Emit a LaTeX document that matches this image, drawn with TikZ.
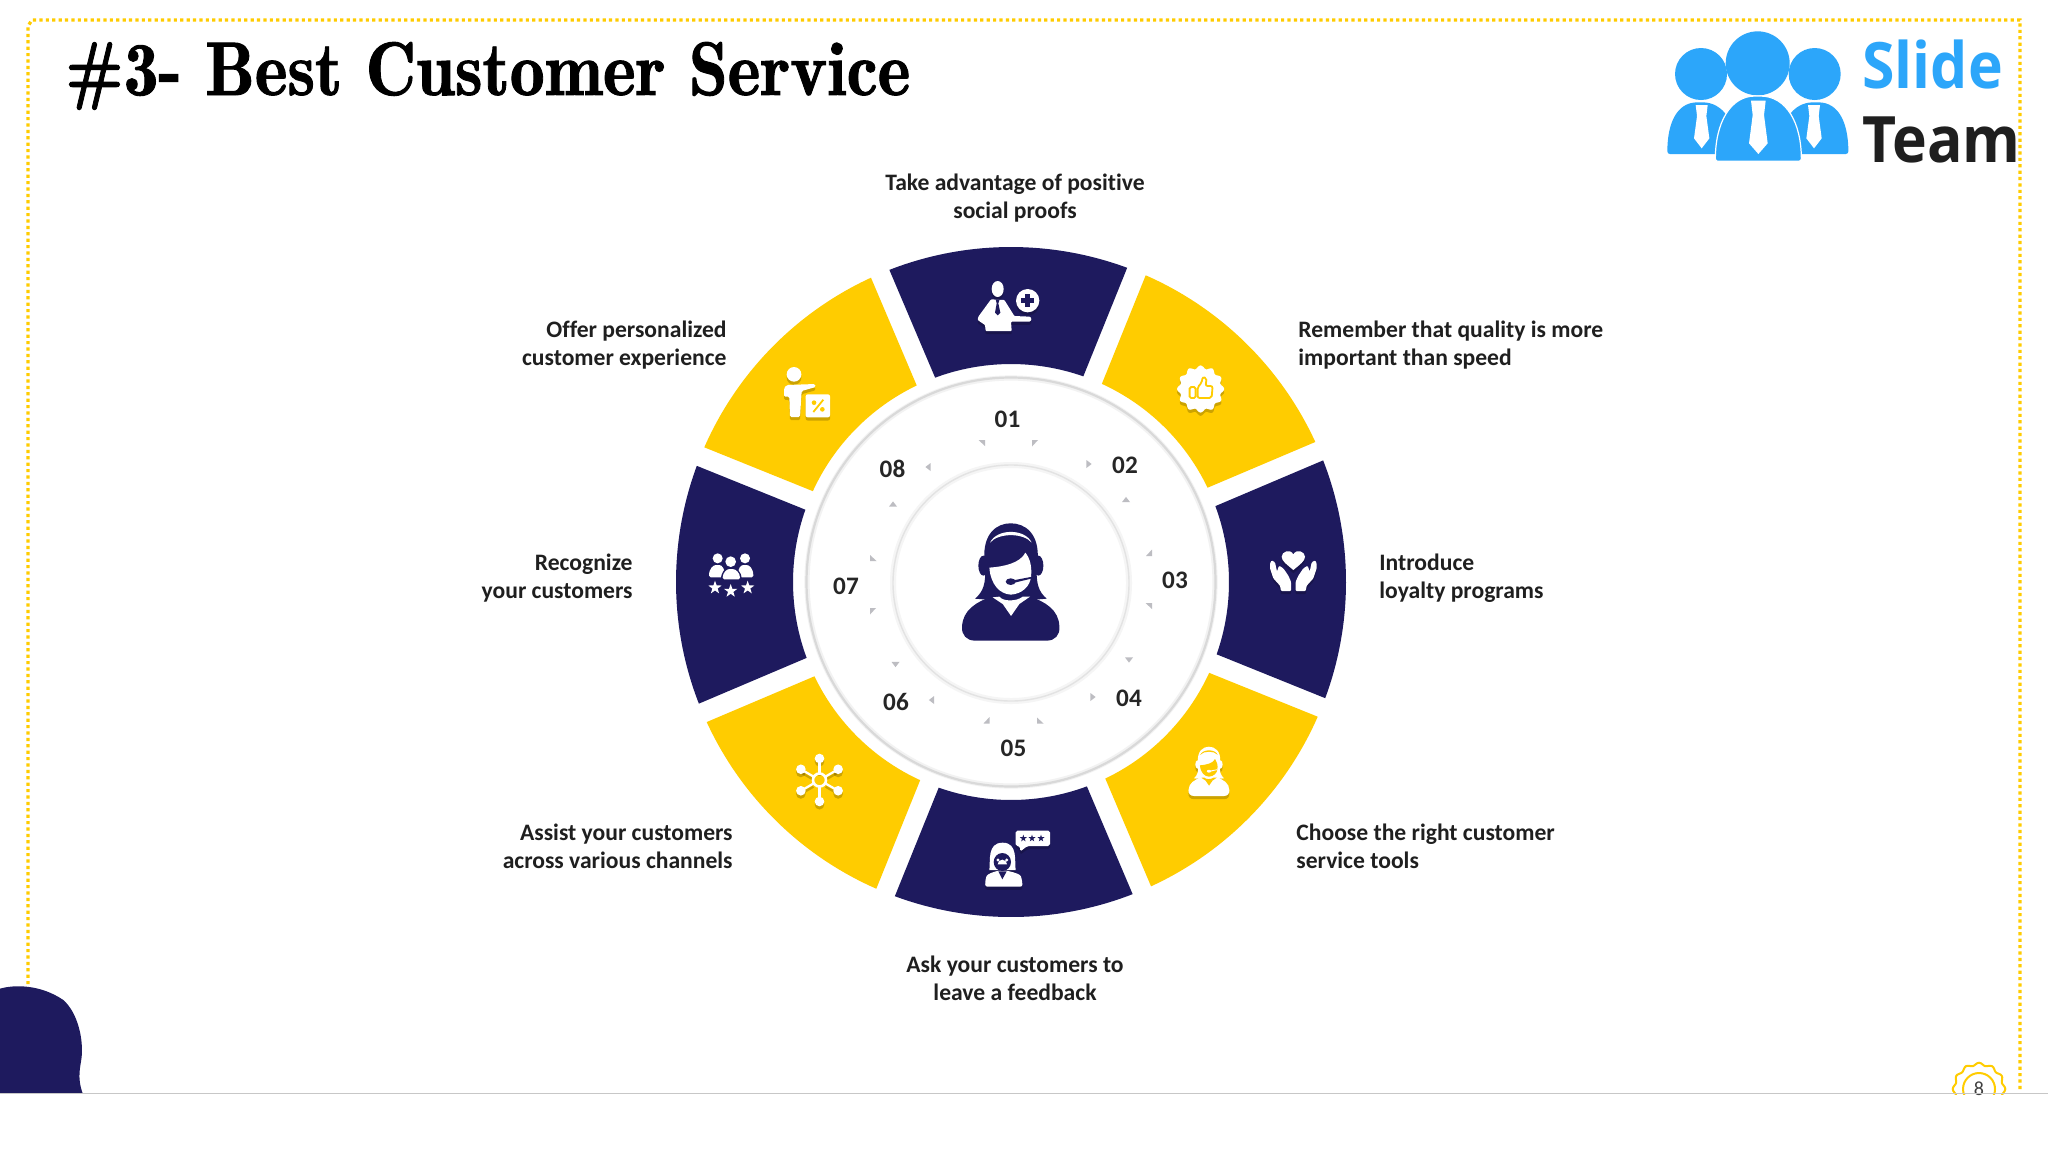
\documentclass[tikz,border=0pt]{standalone}
\usepackage{fontspec}
\usepackage{graphicx}
\newfontfamily\bodyfam[BoldFont={Carlito Bold},Ligatures=NoCommon]{Carlito}
\newfontfamily\logofam{Open Sans Bold}
\newfontfamily\titlefam[FakeBold=1.2]{lmromandemi10-regular.otf}
\definecolor{navy}{HTML}{1E1A5E}
\definecolor{gold}{HTML}{FFCC00}
\definecolor{sky}{HTML}{2CA6FA}
\definecolor{tricol}{HTML}{BDBDC2}
\newcommand\bodyfont{\bodyfam\bfseries\fontsize{11.8pt}{14pt}\selectfont}
\tikzset{
  zm/.style={x=0.166667pt,y=-0.166667pt},
  lbl/.style={inner sep=0pt,font=\bodyfont,text=black!88},
  lblleft/.style={lbl,anchor=west,align=left},
  lblright/.style={lbl,anchor=east,align=right},
  lblmid/.style={lbl,anchor=center,align=center},
  numlbl/.style={inner sep=0pt,anchor=center,text=black!85,font=\bodyfam\bfseries\fontsize{12.6pt}{14pt}\selectfont},
  framedots/.style={draw=gold,line width=1.6pt,dash pattern=on 1.6pt off 1.6pt},
}
% ---------- helpers
\newcommand\sect[2]{\fill[#2] ({#1-20.79}:335) arc[start angle=#1-20.79,end angle=#1+20.79,radius=335] -- ({#1+19.87}:218) arc[start angle=#1+19.87,end angle=#1-19.87,radius=218] -- cycle;}
\newcommand\triA[3]{\fill[tricol,shift={(#1,#2)},rotate=#3] (-2.6,-4) -- (-2.6,4) -- (2.6,0) -- cycle;}
\newcommand\triC[3]{\fill[tricol,shift={(#1,#2)},rotate=#3] (-3.5,-3) -- (3,-3) -- (3,3) -- cycle;}
\newcommand\starat[4]{\fill[#4] plot[samples at={0,1,...,9},variable=\t] ({#1+(#3*(1-0.6*mod(\t,2)))*sin(36*\t)},{#2-(#3*(1-0.6*mod(\t,2)))*cos(36*\t)}) -- cycle;}
\newcommand\shadsil[1]{\begin{scope}[yshift=-1.6pt,opacity=.2]#1{black}\end{scope}#1{white}}
% ---------- woman with headset, in the coordinates of a 3x crop
\newcommand\wsil[1]{%
  \fill[#1] (373,480) .. controls (368,400) and (410,370) .. (452,370) .. controls (495,370) and (538,400) .. (533,480) -- cycle;
  \fill[#1] (370,497) ellipse[x radius=15,y radius=30];
  \fill[#1] (535,497) ellipse[x radius=15,y radius=30];
  \fill[#1] (375,470) -- (375,500) .. controls (378,550) and (370,575) .. (345,596) -- (390,600) -- (515,600) -- (560,596) .. controls (535,575) and (528,550) .. (530,500) -- (530,470) -- cycle;
  \fill[#1] (306,680) .. controls (308,630) and (350,605) .. (395,590) -- (510,590) .. controls (555,605) and (597,630) .. (598,680) .. controls (600,705) and (585,722) .. (560,722) -- (345,722) .. controls (320,722) and (304,705) .. (306,680) -- cycle;
}
\newcommand\wholes[2]{%
  \fill[#1] (388,503) .. controls (430,500) and (480,490) .. (496,458) .. controls (510,475) and (516,500) .. (513,530) .. controls (510,560) and (485,582) .. (452,584) .. controls (420,582) and (392,555) .. (388,503) -- cycle;
  \fill[#1] (398,592) -- (418,590) .. controls (428,605) and (470,605) .. (488,590) -- (510,590) -- (478,612) -- (453,648) -- (428,612) -- cycle;
  \fill[#1] (390,428) .. controls (410,385) and (495,385) .. (515,428) .. controls (490,398) and (415,398) .. (390,428) -- cycle;
  \fill[#2] (452,545) ellipse[x radius=15,y radius=10];
  \fill[#2] (460,541) -- (512,531) -- (513,536) -- (460,549) -- cycle;
}
% ---------- icon silhouettes
\newcommand\silA[1]{%
  \fill[#1] (98,57) ellipse[x radius=18,y radius=24];
  \fill[#1,rounded corners=.4pt] (78,88) -- (40,140) -- (38,150) -- (60,165) -- (62,183) -- (140,183) -- (138,155) -- (195,155) -- (200,147) -- (195,140) -- (148,138) -- (118,90) -- cycle;
  \fill[#1] (188,92) circle[radius=35];
}
\newcommand\silB[1]{%
  \fill[#1] (115,105) .. controls (95,88) and (80,78) .. (80,65) .. controls (80,50) and (105,40) .. (115,58) .. controls (125,40) and (150,50) .. (150,65) .. controls (150,78) and (135,88) .. (115,105) -- cycle;
  \fill[#1,rounded corners=.5pt] (45,85) -- (50,76) -- (60,82) -- (66,110) -- (72,92) -- (85,100) -- (100,122) -- (108,140) -- (108,168) -- (78,168) -- (75,152) -- (55,130) -- (45,100) -- cycle;
  \fill[#1,rounded corners=.5pt] (185,85) -- (180,76) -- (170,82) -- (164,110) -- (158,92) -- (145,100) -- (130,122) -- (122,140) -- (122,168) -- (152,168) -- (155,152) -- (175,130) -- (185,100) -- cycle;
}
\newcommand\silE[1]{%
  \fill[#1,rounded corners=.9pt] (137,32) -- (240,32) -- (240,78) -- (172,78) -- (150,95) -- (150,78) -- (137,78) -- cycle;
  \fill[#1] (58,150) .. controls (62,125) and (50,68) .. (98,68) .. controls (145,68) and (133,125) .. (137,150) -- cycle;
  \fill[#1,rounded corners=1.2pt] (45,200) -- (47,175) .. controls (52,162) and (70,156) .. (85,152) -- (110,152) .. controls (128,156) and (150,162) .. (155,175) -- (158,200) -- cycle;
}
\newcommand\silG[1]{%
  \fill[#1] (68,55) circle[radius=15];
  \fill[#1] (150,55) circle[radius=15];
  \fill[#1,rounded corners=.8pt] (42,112) .. controls (42,85) and (55,75) .. (68,75) .. controls (80,75) and (90,85) .. (90,112) -- cycle;
  \fill[#1,rounded corners=.8pt] (128,112) .. controls (128,85) and (138,75) .. (150,75) .. controls (163,75) and (175,85) .. (175,112) -- cycle;
  \fill[#1] (107,65) circle[radius=16];
  \fill[navy,rounded corners=.8pt] (78,122) .. controls (78,95) and (92,82) .. (108,82) .. controls (124,82) and (140,95) .. (140,122) -- cycle;
  \fill[#1,rounded corners=.8pt] (83,118) .. controls (83,98) and (95,87) .. (108,87) .. controls (122,87) and (135,98) .. (135,118) -- cycle;
  \starat{60}{143}{21}{#1}
  \starat{107}{153}{21}{#1}
  \starat{158}{143}{21}{#1}
}
\newcommand\silH[1]{%
  \fill[#1] (72,58) circle[radius=22];
  \fill[#1,rounded corners=.7pt] (50,90) -- (135,87) -- (137,96) -- (95,108) -- (90,186) -- (60,186) -- (58,125) -- (42,125) -- (42,100) -- cycle;
  \fill[#1,rounded corners=1pt] (107,118) rectangle (180,187);
}
\begin{document}
\begin{tikzpicture}[x=0.5pt,y=-0.5pt]
\useasboundingbox (0,0) rectangle (2048,1152);
\fill[white] (0,0) rectangle (2048,1152);
% frame
\draw[framedots] (28,1093) -- (28,26) -- (32,20) -- (2020,20) -- (2020,1090);
% wedges
\begin{scope}[shift={(1011,582)},y=0.5pt]
  \sect{90.5}{navy}
  \sect{45.5}{gold}
  \sect{0.5}{navy}
  \sect{-44.5}{gold}
  \sect{-89.5}{navy}
  \sect{-134.5}{gold}
  \sect{180.5}{navy}
  \sect{135.5}{gold}
\end{scope}
% rings
\draw[draw=black!5,line width=2.6pt] (1011,582) circle[radius=204];
\draw[draw=black!15,line width=1.1pt] (1011,582) circle[radius=204.5];
\draw[draw=black!4,line width=3pt] (1011,583) circle[radius=118];
\draw[draw=black!11,line width=.7pt] (1011,583) circle[radius=118];
% small grey arrowheads
\triC{982}{443}{0} \triC{1035}{443}{90}
\triA{1089}{464}{0} \triA{1126}{499.5}{90}
\triC{1149}{553}{270} \triC{1149}{606}{0}
\triA{1129}{660}{270} \triA{1093}{697}{0}
\triC{986.5}{720.5}{270} \triC{1040}{720.5}{180}
\triA{931.5}{700}{180} \triA{895.5}{664.5}{270}
\triC{873}{558}{180} \triC{873}{611}{90}
\triA{928}{467}{180} \triA{893}{504}{90}
% numbers
\node[numlbl] (n01) at (1007.5,419) {01};
\node[numlbl] (n02) at (1125,465) {02};
\node[numlbl] (n03) at (1175,580.5) {03};
\node[numlbl] (n04) at (1129,698) {04};
\node[numlbl] (n05) at (1013.5,748) {05};
\node[numlbl] (n06) at (896,701.5) {06};
\node[numlbl] (n07) at (846,586) {07};
\node[numlbl] (n08) at (892.5,469) {08};
% labels
\node[lblmid] (t1) at (1015,198.5) {Take advantage of positive\\social proofs};
\node[lblleft] (t2) at (1298,345) {Remember that quality is more\\important than speed};
\node[lblleft] (t3) at (1379,578.5) {Introduce\\loyalty programs};
\node[lblleft] (t4) at (1296,846) {Choose the right customer\\service tools};
\node[lblmid] (t5) at (1015,978.5) {Ask your customers to\\leave a feedback};
\node[lblright] (t6) at (733,846) {Assist your customers\\across various channels};
\node[lblright] (t7) at (633,578.5) {Recognize\\your customers};
\node[lblright] (t8) at (727,345) {Offer personalized\\customer experience};
% centre figure
\begin{scope}[shift={(1010.7,583.3)},zm,shift={(-452,-550)}]
  \wsil{navy}\wholes{white}{navy}
\end{scope}
% icon 01
\begin{scope}[shift={(965,270)},zm]
  \shadsil{\silA}
  \fill[navy] (92,88) -- (104,88) -- (100,100) -- (106,128) -- (98,136) -- (90,128) -- (95,100) -- cycle;
  \fill[navy] (181,72) rectangle (195,112);
  \fill[navy] (168,85) rectangle (208,99);
\end{scope}
% icon 02
\begin{scope}[shift={(1200.6,389)}]
  \begin{scope}[yshift=-1.6pt,opacity=.2]
    \fill[black] plot[smooth,samples=97,domain=0:360,variable=\t] ({(22+1.6*cos(12*\t))*cos(\t)},{(22+1.6*cos(12*\t))*sin(\t)}) -- cycle;
  \end{scope}
  \fill[white] plot[smooth,samples=97,domain=0:360,variable=\t] ({(22+1.6*cos(12*\t))*cos(\t)},{(22+1.6*cos(12*\t))*sin(\t)}) -- cycle;
  \draw[gold,line width=.9pt,rounded corners=.8pt] (-11,-2) rectangle (-5,9);
  \draw[gold,line width=.9pt,rounded corners=1pt] (-3,-2) -- (1,-6) -- (2,-12) -- (6,-11) -- (5,-3) -- (12,-3) -- (11,9) -- (-3,9) -- cycle;
\end{scope}
% icon 03
\begin{scope}[shift={(1255,535)},zm]
  \shadsil{\silB}
\end{scope}
% icon 04
\begin{scope}[shift={(1208.9,771.9)},x=0.07pt,y=-0.07pt,shift={(-452,-550)}]
  \begin{scope}[yshift=-1.6pt,opacity=.2]\wsil{black}\end{scope}
  \wsil{white}\wholes{gold}{white}
\end{scope}
% icon 05
\begin{scope}[shift={(970,820)},zm]
  \shadsil{\silE}
  \starat{160}{55}{11}{navy}
  \starat{186}{55}{11}{navy}
  \starat{213}{55}{11}{navy}
  \fill[navy] (97,126) ellipse[x radius=26,y radius=27];
  \fill[white] (84,120) circle[radius=5];
  \fill[white] (110,120) circle[radius=5];
  \fill[white] (83,133) arc[start angle=180,end angle=360,radius=14] -- cycle;
  \fill[navy] (85,154) -- (110,154) -- (97,178) -- cycle;
\end{scope}
% icon 06
\begin{scope}[shift={(819.5,780)}]
  \foreach \a in {30,90,150,210,270,330}{
    \begin{scope}[yshift=-1.6pt,opacity=.2]
      \draw[black,line width=1.1pt] (\a:7) -- (\a:20);
      \fill[black] (\a:21.5) circle[radius=4.8];
    \end{scope}
  }
  \foreach \a in {30,90,150,210,270,330}{
    \draw[white,line width=1.1pt] (\a:7) -- (\a:20);
    \fill[white] (\a:21.5) circle[radius=4.8];
  }
  \draw[white,line width=1.3pt] (0,0) circle[radius=6.5];
\end{scope}
% icon 07
\begin{scope}[shift={(695,540)},zm]
  \silG{white}
\end{scope}
% icon 08
\begin{scope}[shift={(770,355)},zm]
  \shadsil{\silH}
  \draw[gold,line width=.9pt] (130,171) -- (160,134);
  \fill[gold] (132,143) circle[radius=7];
  \fill[gold] (157,163) circle[radius=7];
\end{scope}
% title
\node[inner sep=0pt,anchor=base west,text=black] (title) at (65,95) {\scalebox{0.92}[1]{\titlefam\fontsize{38pt}{42pt}\selectfont \#3- Best Customer Service}};
% logo
\begin{scope}[shift={(1640,0)},zm]
  \fill[sky] (183,222) circle[radius=78];
  \fill[sky] (524,222) circle[radius=78];
  \fill[sky] (353,190) circle[radius=96];
  \fill[sky,rounded corners=1.3pt] (82,462) .. controls (82,370) and (110,307) .. (180,307) .. controls (250,307) and (290,370) .. (290,462) -- cycle;
  \fill[sky,rounded corners=1.3pt] (625,462) .. controls (625,370) and (597,307) .. (527,307) .. controls (457,307) and (417,370) .. (417,462) -- cycle;
  \fill[sky,draw=white,line width=.6pt,rounded corners=1.3pt] (226,484) .. controls (226,370) and (270,288) .. (353,288) .. controls (440,288) and (484,370) .. (484,484) -- cycle;
  \fill[white] (333,302) -- (377,302) -- (372,345) -- (338,345) -- cycle;
  \fill[white] (338,345) -- (372,345) -- (383,430) -- (355,462) -- (327,430) -- cycle;
  \fill[white] (167,315) -- (203,315) -- (199,348) -- (171,348) -- cycle;
  \fill[white] (171,348) -- (199,348) -- (208,415) -- (185,445) -- (162,415) -- cycle;
  \fill[white] (504,315) -- (540,315) -- (536,348) -- (508,348) -- cycle;
  \fill[white] (508,348) -- (536,348) -- (545,415) -- (522,445) -- (499,415) -- cycle;
\end{scope}
\node[inner sep=0pt,anchor=base west,text=sky] (slide) at (1862,88) {\scalebox{.92}[1]{\logofam\fontsize{32pt}{36pt}\selectfont Slide}};
\node[inner sep=0pt,anchor=base west,text=black!88] (team) at (1862,162) {\scalebox{.92}[1]{\logofam\fontsize{32pt}{36pt}\selectfont Team}};
% footer blob
\begin{scope}[shift={(0,960)},zm]
  \fill[navy] (0,400) -- (0,86) .. controls (40,74) and (120,72) .. (190,120) .. controls (235,160) and (250,240) .. (245,290) .. controls (242,320) and (230,350) .. (248,400) -- cycle;
\end{scope}
% page badge
\begin{scope}
  \clip (1940,1050) rectangle (2020,1094);
  \draw[gold,line width=1pt] plot[smooth,samples=97,domain=0:360,variable=\t] ({1979+(25+1.3*cos(12*\t))*cos(\t)},{1089+(25+1.3*cos(12*\t))*sin(\t)}) -- cycle;
  \draw[gold,line width=1pt] (1979,1089) circle[radius=16];
\end{scope}
\node[inner sep=0pt,anchor=center,text=black!75,font=\bodyfam\fontsize{10pt}{12pt}\selectfont] (page) at (1979,1088.5) {8};
\draw[draw=black!22,line width=.6pt] (0,1093.5) -- (2048,1093.5);
\end{tikzpicture}
\end{document}
